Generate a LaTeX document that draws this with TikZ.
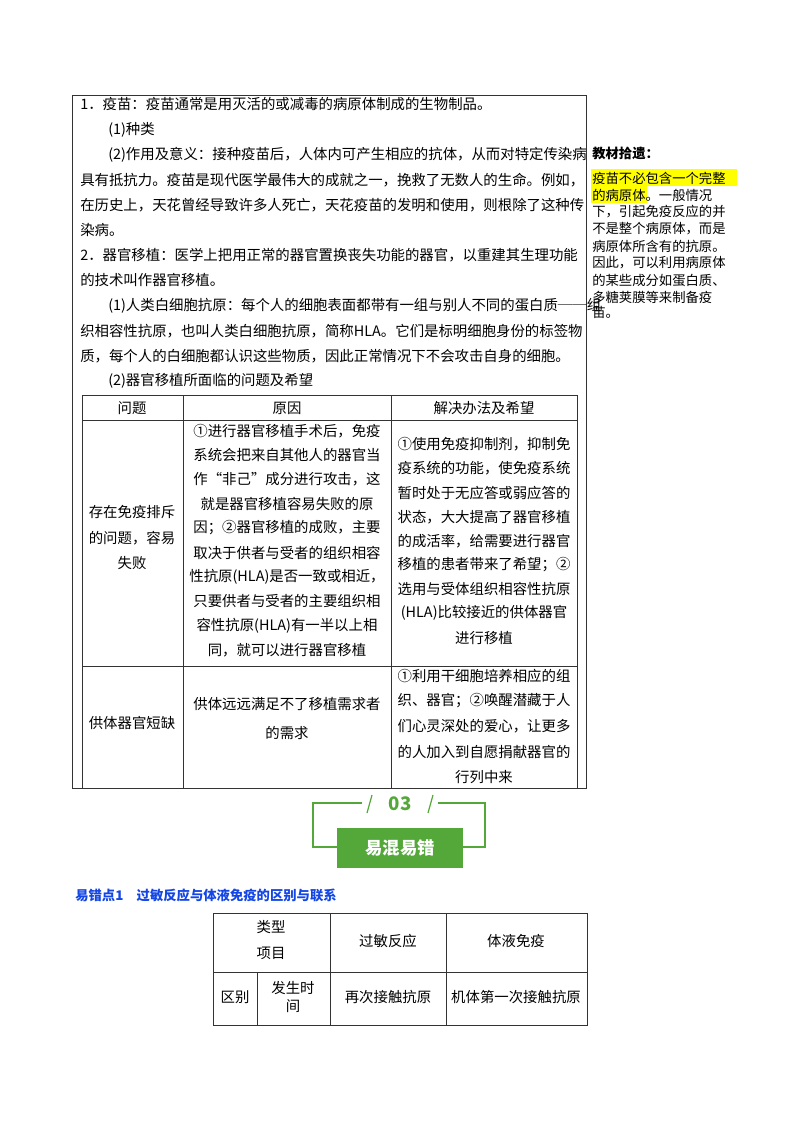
\documentclass[tikz,border=0pt]{standalone}
\usepackage{fontspec}
\setmainfont{Noto Sans CJK SC}
\definecolor{badgegreen}{RGB}{84,168,58}
\definecolor{headblue}{RGB}{20,70,230}
\definecolor{notehl}{RGB}{255,255,0}
\tikzset{
    body/.style={anchor=west, inner sep=0pt, font=\fontsize{10.8}{12}\selectfont},
    cell/.style={inner sep=0pt, font=\fontsize{10.8}{12}\selectfont},
    note/.style={anchor=west, inner sep=0pt, font=\fontsize{10}{11}\selectfont},
    grid/.style={draw=black!80, line width=0.6pt},
}
\begin{document}
\begin{tikzpicture}[x=0.75pt, y=-0.75pt]
    \useasboundingbox (0,0) rectangle (800,1132);

    % outer frame and text
    \draw[grid] (72,95) rectangle (586,788);
    \node[body] (l1) at (80,104) {1．疫苗：疫苗通常是用灭活的或减毒的病原体制成的生物制品。};
    \node[body] (l2) at (108,130) {(1)种类};
    \node[body] (l3) at (108,155) {(2)作用及意义：接种疫苗后，人体内可产生相应的抗体，从而对特定传染病};
    \node[body] (l4) at (80,180) {具有抵抗力。疫苗是现代医学最伟大的成就之一，挽救了无数人的生命。例如，};
    \node[body] (l5) at (80,205) {在历史上，天花曾经导致许多人死亡，天花疫苗的发明和使用，则根除了这种传};
    \node[body] (l6) at (80,230) {染病。};
    \node[body] (l7) at (80,255) {2．器官移植：医学上把用正常的器官置换丧失功能的器官，以重建其生理功能};
    \node[body] (l8) at (80,280) {的技术叫作器官移植。};
    \node[body] (l9) at (108,306) {(1)人类白细胞抗原：每个人的细胞表面都带有一组与别人不同的蛋白质──组};
    \node[body] (l10) at (80,331) {织相容性抗原，也叫人类白细胞抗原，简称HLA。它们是标明细胞身份的标签物};
    \node[body] (l11) at (80,356) {质，每个人的白细胞都认识这些物质，因此正常情况下不会攻击自身的细胞。};
    \node[body] (l12) at (108,381) {(2)器官移植所面临的问题及希望};

    % problem table
    \draw[grid] (82,395) rectangle (577,788);
    \draw[grid] (82,420) -- (577,420);
    \draw[grid] (82,666) -- (577,666);
    \draw[grid] (183,395) -- (183,788);
    \draw[grid] (391,395) -- (391,788);
    \node[cell] (h1) at (132,408) {问题};
    \node[cell] (h2) at (287,408) {原因};
    \node[cell] (h3) at (484,408) {解决办法及希望};
    \foreach \y/\t in {512/存在免疫排斥, 538/的问题，容易, 563/失败, 723/供体器官短缺}
        \node[cell] at (132,\y) {\t};
    \foreach \y/\t in {431/{①进行器官移植手术后，免疫}, 455/系统会把来自其他人的器官当,
        479/{作“非己”成分进行攻击，这}, 504/就是器官移植容易失败的原,
        528/{因；②器官移植的成败，主要}, 553/取决于供者与受者的组织相容,
        577/{性抗原(HLA)是否一致或相近，}, 601/只要供者与受者的主要组织相,
        626/容性抗原(HLA)有一半以上相, 650/{同，就可以进行器官移植},
        704/供体远远满足不了移植需求者, 733/的需求}
        \node[cell] at (287,\y) {\t};
    \foreach \y/\t in {444/{①使用免疫抑制剂，抑制免}, 468/{疫系统的功能，使免疫系统},
        493/暂时处于无应答或弱应答的, 517/{状态，大大提高了器官移植},
        541/{的成活率，给需要进行器官}, 565/移植的患者带来了希望；②,
        589/选用与受体组织相容性抗原, 613/(HLA)比较接近的供体器官,
        638/进行移植, 676/①利用干细胞培养相应的组,
        701/织、器官；②唤醒潜藏于人, 726/{们心灵深处的爱心，让更多},
        752/的人加入到自愿捐献器官的, 777/行列中来}
        \node[cell] at (484,\y) {\t};

    % side note
    \node[note, font=\fontsize{10}{11}\selectfont\bfseries] (notehead) at (592,153) {教材拾遗：};
    \fill[notehl] (591,169) rectangle (737,186);
    \fill[notehl] (591,186) rectangle (647,203);
    \foreach \y/\t in {178/疫苗不必包含一个完整, 195/的病原体。一般情况,
        212/{下，引起免疫反应的并}, 229/{不是整个病原体，而是},
        246/病原体所含有的抗原。, 263/{因此，可以利用病原体},
        280/的某些成分如蛋白质、, 297/多糖荚膜等来制备疫}
        \node[note] at (592,\y) {\t};
    \node[note] (noteend) at (592,312) {苗。};

    % badge
    \draw[badgegreen, line width=0.9pt] (362,803) -- (313,803) -- (313,847) -- (337,847);
    \draw[badgegreen, line width=0.9pt] (438,803) -- (485,803) -- (485,847) -- (462,847);
    \draw[badgegreen, line width=0.9pt] (367,813) -- (372,795);
    \draw[badgegreen, line width=0.9pt] (428,813) -- (433,795);
    \node[text=badgegreen, font=\fontsize{14}{14}\selectfont\bfseries] (badgenum) at (400,804) {03};
    \node[fill=badgegreen, minimum width=94pt, minimum height=30pt, inner sep=0pt,
        text=white, font=\fontsize{13}{13}\selectfont\bfseries] (badge) at (400,848) {易混易错};

    % mix-up table
    \node[anchor=west, inner sep=0pt, text=headblue, font=\fontsize{10}{12}\selectfont\bfseries]
        (mixhead) at (75,895) {易错点1\quad 过敏反应与体液免疫的区别与联系};
    \draw[grid] (213,913) rectangle (587,1025);
    \draw[grid] (213,972) -- (587,972);
    \draw[grid] (257,972) -- (257,1025);
    \draw[grid] (330,913) -- (330,1025);
    \draw[grid] (446,913) -- (446,1025);
    \node[cell] (type) at (271,927) {类型};
    \node[cell] (item) at (271,953) {项目};
    \node[cell] (allergy) at (388,941) {过敏反应};
    \node[cell] (humoral) at (516,941) {体液免疫};
    \node[cell] (diff) at (235,997) {区别};
    \node[cell] (time1) at (293,988) {发生时};
    \node[cell] (time2) at (293,1006) {间};
    \node[cell] (again) at (388,997) {再次接触抗原};
    \node[cell] (first) at (516,997) {机体第一次接触抗原};
\end{tikzpicture}
\end{document}
